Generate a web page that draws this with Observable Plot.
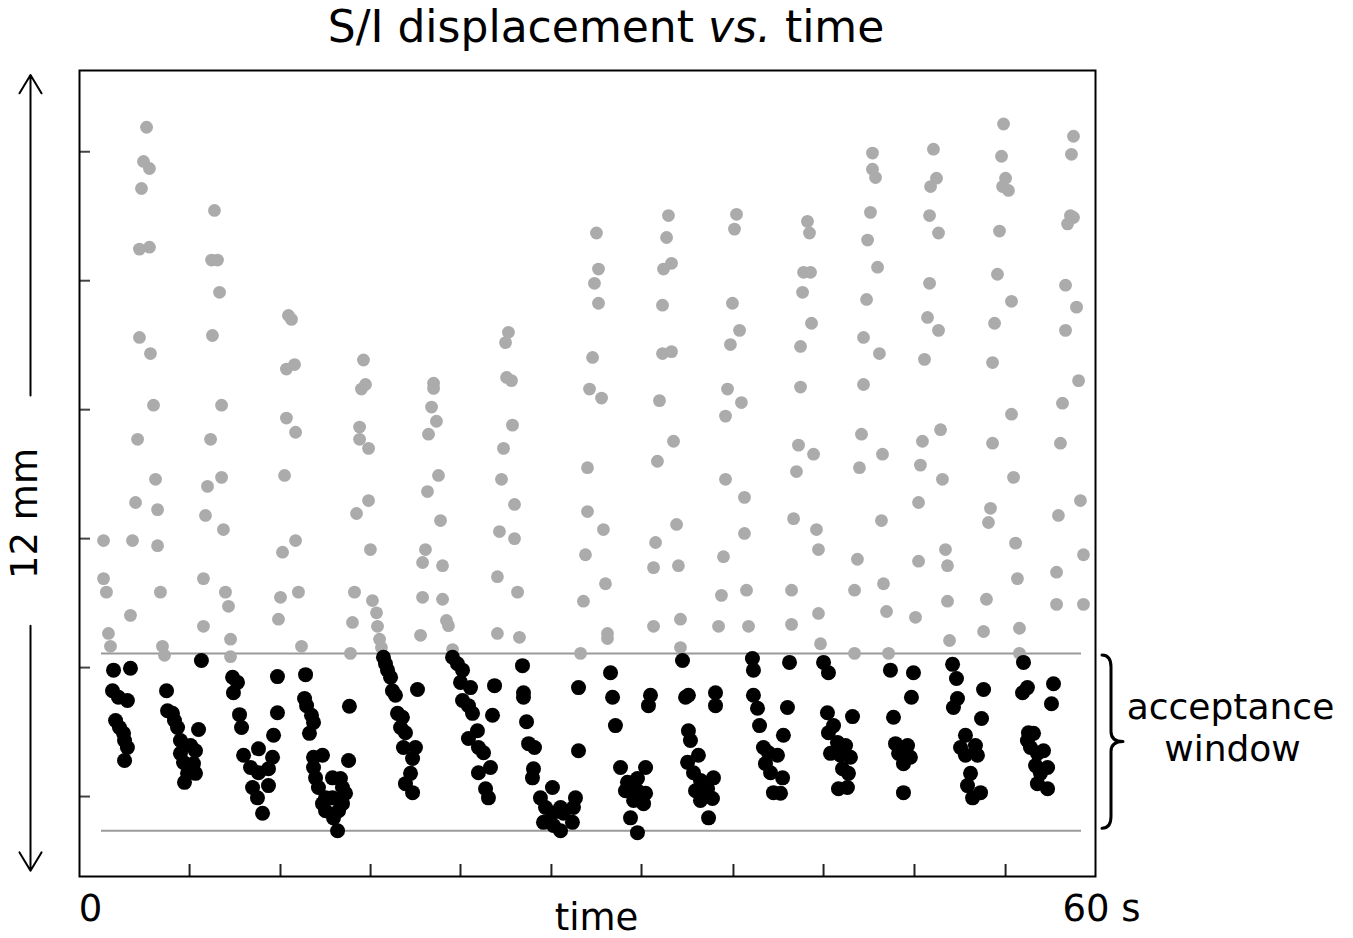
<!DOCTYPE html>
<html>
<head>
<meta charset="utf-8">
<script src="https://cdn.jsdelivr.net/npm/d3@7"></script>
<script src="https://cdn.jsdelivr.net/npm/@observablehq/plot@0.6"></script>
<style>
  body { margin: 0; background: #fff; }
  #wrap { position: relative; width: 1353px; height: 938px; font-family: "DejaVu Sans", sans-serif; }
  #wrap svg { position: absolute; left: 0; top: 0; }
  #title { position: absolute; left: 0; top: 5px; width: 1212px; text-align: center; font-size: 44px; line-height: 44px; color: #000; }
</style>
</head>
<body>
<div id="wrap"></div>
<script>
// ---- data (time in s, S/I displacement in mm) ----
const timeDomain = [0, 60];
const dispDomain = [-1.24, 11.26];
const xTicks = [6.50, 11.87, 17.19, 22.50, 27.87, 33.19, 38.62, 43.94, 49.31, 54.69];
const yTicks = [0, 2, 4, 6, 8, 10];
const windowBounds = [-0.53, 2.22];
const spanArrows = [[6.22, 11.19], [2.65, -1.15]];
const titleText = ["S/I displacement ", "vs.", " time"];
const spanLabel = "12 mm";
const windowLabel = ["acceptance", "window"];
const xStartLabel = "0";
const xEndLabel = "60 s";
const xAxisLabel = "time";

// points outside the acceptance window (gray)
const outsidePoints = [
  [1.42,3.97],[1.42,3.38],[1.59,3.17],[1.71,2.53],[1.83,2.33],[3.01,2.81],[3.13,3.97],[3.31,4.56],
  [3.43,5.54],[3.54,7.12],[3.54,8.49],[4.13,8.52],[3.66,9.43],[3.78,9.85],[4.13,9.74],[3.96,10.38],
  [4.19,6.87],[4.37,6.07],[4.49,4.92],[4.61,4.45],[4.61,3.89],[4.78,3.17],[4.90,2.33],[5.02,2.19],
  [7.97,9.09],[7.80,8.32],[8.15,8.32],[8.27,7.82],[7.85,7.15],[8.39,6.07],[7.74,5.54],[8.39,4.95],
  [7.56,4.81],[7.44,4.36],[8.50,4.14],[7.32,3.38],[8.62,3.17],[8.80,2.95],[7.32,2.64],[8.92,2.44],[8.92,2.17],
  [12.34,7.46],[12.52,7.40],[12.22,6.63],[12.70,6.70],[12.22,5.87],[12.76,5.65],[12.11,4.98],[12.76,3.97],
  [11.99,3.79],[12.93,3.17],[11.87,3.09],[11.75,2.75],[13.11,2.33],
  [16.77,6.77],[16.65,6.32],[16.89,6.39],[16.54,5.73],[16.54,5.54],[17.07,5.40],[17.07,4.59],[16.36,4.39],
  [17.18,3.83],[16.24,3.17],[17.30,3.04],[17.54,2.85],[16.12,2.70],[17.60,2.64],[17.72,2.44],[17.83,2.31],[16.00,2.22],
  [20.91,6.41],[20.91,6.33],[20.79,6.04],[21.08,5.82],[20.61,5.62],[21.20,4.98],[20.55,4.73],[21.32,4.28],
  [20.43,3.83],[20.26,3.63],[21.44,3.58],[20.26,3.09],[21.44,3.06],[21.67,2.73],[21.79,2.65],[20.14,2.50],[22.03,2.28],
  [25.33,7.20],[25.16,7.04],[25.22,6.50],[25.51,6.45],[25.57,5.76],[25.04,5.40],[24.92,4.92],[25.69,4.53],
  [24.80,4.11],[25.69,4.00],[24.68,3.41],[25.87,3.17],[24.68,2.53],[25.98,2.47],
  [30.53,8.74],[30.65,8.18],[30.41,7.96],[30.65,7.65],[30.30,6.81],[30.12,6.32],[30.83,6.18],[30.00,5.10],
  [30.00,4.42],[30.94,4.14],[29.88,3.75],[31.06,3.30],[29.76,3.03],[31.18,2.53],[31.18,2.45],[29.59,2.22],
  [34.78,9.01],[34.67,8.67],[34.96,8.27],[34.49,8.18],[34.43,7.62],[34.43,6.87],[34.96,6.90],[34.25,6.14],
  [35.08,5.51],[34.13,5.20],[35.26,4.22],[34.02,3.94],[33.90,3.55],[35.37,3.58],[35.49,2.75],[33.90,2.64],[35.49,2.31],
  [38.80,9.03],[38.68,8.80],[38.56,7.65],[38.98,7.23],[38.44,7.01],[38.27,6.32],[39.09,6.11],[38.15,5.90],
  [38.15,4.92],[39.27,4.64],[39.27,4.08],[38.03,3.72],[39.39,3.20],[37.91,3.12],[37.74,2.64],[39.51,2.64],
  [42.99,8.92],[43.11,8.74],[42.76,8.13],[43.17,8.13],[42.70,7.82],[43.23,7.34],[42.58,6.98],[42.58,6.35],
  [42.46,5.45],[43.35,5.31],[42.34,5.04],[42.17,4.31],[43.52,4.14],[43.64,3.83],[42.05,3.20],[43.64,2.84],
  [42.05,2.67],[43.76,2.37],
  [46.83,9.98],[46.83,9.73],[47.01,9.60],[46.71,9.06],[46.54,8.63],[47.13,8.21],[46.48,7.71],[46.30,7.12],
  [47.24,6.87],[46.30,6.39],[46.18,5.62],[47.42,5.31],[46.06,5.10],[47.36,4.28],[45.94,3.68],[45.77,3.20],
  [47.48,3.30],[47.66,2.87],[45.77,2.22],[47.78,2.22],
  [50.43,10.04],[50.61,9.59],[50.26,9.46],[50.20,9.01],[50.73,8.74],[50.20,7.96],[50.08,7.43],[50.73,7.23],
  [49.90,6.78],[50.85,5.69],[49.78,5.51],[49.66,5.14],[50.96,4.92],[49.55,4.56],[49.55,3.65],[51.14,3.83],
  [51.26,3.58],[49.37,2.78],[51.26,3.03],[51.38,2.42],
  [54.57,10.43],[54.45,9.93],[54.69,9.59],[54.51,9.46],[54.86,9.40],[54.33,8.77],[54.21,8.10],[55.04,7.68],
  [54.04,7.34],[53.92,6.73],[55.04,5.93],[53.92,5.48],[55.16,4.95],[53.80,4.47],[53.68,4.25],[55.28,3.93],
  [55.39,3.38],[53.56,3.06],[53.39,2.56],[55.51,2.61],[55.51,2.22],
  [58.70,10.24],[58.58,9.96],[58.52,9.01],[58.70,8.98],[58.35,8.88],[58.23,7.93],[58.88,7.59],[58.23,7.23],
  [59.00,6.45],[58.05,6.10],[57.93,5.48],[59.11,4.59],[57.81,4.36],[59.29,3.75],[57.70,3.48],[57.70,2.98],[59.29,2.98]
];

// points inside the acceptance window (black)
const insidePoints = [
  [2.01,1.96],[3.01,1.99],[1.95,1.64],[2.30,1.54],[2.83,1.49],[2.13,1.18],[2.36,1.07],[2.60,0.98],[2.66,0.87],[2.83,0.76],[2.66,0.56],
  [7.20,2.11],[5.14,1.64],[5.20,1.33],[5.49,1.29],[5.61,1.18],[5.79,1.07],[7.03,1.04],[5.96,0.87],[6.56,0.79],[5.96,0.67],
  [6.85,0.71],[6.14,0.53],[6.73,0.51],[6.38,0.36],[6.85,0.36],[6.20,0.22],
  [9.04,1.85],[9.33,1.77],[9.09,1.61],[9.45,1.27],[9.57,1.07],[11.69,1.86],[11.69,1.30],[11.46,0.95],[9.69,0.64],
  [10.57,0.74],[11.40,0.61],[10.10,0.45],[11.16,0.43],[10.57,0.37],[10.22,0.14],[10.51,-0.02],[11.16,0.17],[10.81,-0.26],
  [13.35,1.89],[13.29,1.52],[13.41,1.41],[13.70,1.26],[13.82,1.15],[13.58,0.98],[15.94,1.40],[13.82,0.61],[14.35,0.64],
  [13.82,0.45],[13.94,0.29],[14.11,0.14],[14.94,0.29],[15.41,0.28],[15.53,0.14],[15.71,0.05],[14.53,-0.02],[14.35,-0.11],
  [14.94,-0.02],[15.53,-0.11],[14.53,-0.22],[15.30,-0.22],[15.00,-0.33],[15.24,-0.53],[15.89,0.56],
  [17.95,2.16],[18.07,2.06],[18.19,1.96],[18.37,1.85],[18.48,1.64],[18.66,1.57],[19.96,1.66],[18.78,1.29],[19.07,1.23],
  [18.96,1.07],[19.25,0.99],[19.13,0.76],[19.84,0.76],[19.67,0.59],[19.55,0.36],[19.25,0.20],[19.67,0.06],
  [22.03,2.16],[22.32,2.06],[22.62,1.96],[22.50,1.77],[23.09,1.69],[22.62,1.49],[22.97,1.41],[23.21,1.29],[24.51,1.72],
  [24.39,1.26],[23.50,1.02],[22.97,0.90],[23.56,0.76],[23.86,0.68],[24.27,0.45],[23.56,0.37],[23.98,0.12],[24.15,-0.02],
  [26.16,2.03],[26.22,1.61],[26.22,1.54],[26.40,1.16],[26.52,0.82],[26.87,0.76],[26.81,0.43],[26.75,0.29],[27.93,0.14],
  [27.22,-0.02],[27.52,-0.17],[28.41,-0.17],[29.29,-0.02],[29.17,-0.17],[27.40,-0.40],[27.99,-0.45],[28.41,-0.53],
  [29.11,-0.40],[28.58,-0.26],[27.93,-0.26],[29.47,1.69],[29.47,0.71],
  [31.36,1.92],[31.48,1.54],[31.65,1.10],[31.95,0.45],[33.43,0.45],[32.36,0.22],[32.95,0.28],[32.24,0.09],[32.95,0.09],
  [33.43,0.05],[32.72,-0.06],[33.31,-0.11],[32.54,-0.33],[32.95,-0.56],[33.72,1.57],[33.60,1.41],
  [35.61,2.11],[35.79,1.54],[35.96,1.57],[35.96,1.02],[36.08,0.87],[37.56,1.61],[37.56,1.41],[35.91,0.53],[36.55,0.64],
  [36.26,0.37],[36.67,0.25],[37.44,0.29],[36.38,0.09],[37.09,0.12],[37.38,-0.03],[36.67,-0.06],[37.15,-0.33],
  [39.74,2.14],[39.80,1.96],[39.80,1.57],[40.04,1.37],[40.16,1.10],[40.39,0.76],[40.69,0.68],[41.22,0.64],[40.51,0.51],
  [40.81,0.37],[41.52,0.29],[40.98,0.06],[41.40,0.05],[41.93,2.08],[41.81,1.38],[41.57,0.95],
  [43.94,2.08],[44.23,1.92],[44.17,1.30],[45.65,1.24],[44.53,1.10],[44.23,0.99],[44.76,0.84],[45.24,0.79],[44.35,0.67],
  [44.94,0.64],[45.53,0.61],[45.06,0.43],[45.41,0.36],[44.82,0.12],[45.35,0.14],
  [47.89,1.96],[49.25,1.92],[49.13,1.54],[48.07,1.23],[48.19,0.82],[48.90,0.79],[48.37,0.67],[49.07,0.61],[48.66,0.51],[48.66,0.06],
  [51.56,2.05],[51.79,1.83],[51.85,1.52],[51.61,1.38],[53.39,1.66],[53.27,1.21],[52.32,0.95],[52.03,0.76],[52.91,0.79],
  [52.32,0.64],[53.03,0.64],[52.62,0.36],[52.44,0.17],[53.21,0.06],[52.74,-0.02],
  [55.75,2.08],[55.98,1.69],[55.69,1.61],[57.52,1.75],[57.40,1.44],[56.04,0.99],[56.34,0.98],[55.98,0.87],[56.16,0.76],
  [56.93,0.71],[56.57,0.67],[56.46,0.48],[57.17,0.45],[56.75,0.36],[56.57,0.20],[57.17,0.12]
];

// ---- chart ----
const W = 1353, H = 938;
const mL = 79, mR = 258, mT = 70, mB = 62;
const innerW = W - mL - mR, innerH = H - mT - mB;
const font = "DejaVu Sans";
const label = {fill: "#000", textAnchor: "middle", lineAnchor: "middle"};

const chart = Plot.plot({
  width: W, height: H,
  marginLeft: mL, marginRight: mR, marginTop: mT, marginBottom: mB,
  x: {domain: timeDomain, axis: null},
  y: {domain: dispDomain, axis: null},
  style: {fontFamily: font, background: "#fff", color: "#000", overflow: "visible"},
  marks: [
    Plot.ruleY(windowBounds, {stroke: "#9a9a9a", strokeWidth: 2, insetLeft: 22, insetRight: 14}),
    Plot.tickY(yTicks, {y: d => d, stroke: "#444", strokeWidth: 2, insetRight: innerW - 11}),
    Plot.tickX(xTicks, {x: d => d, stroke: "#222", strokeWidth: 2, insetTop: innerH - 12}),
    Plot.dot(outsidePoints, {x: d => d[0], y: d => d[1], r: 6.4, fill: "#ababab", stroke: "none"}),
    Plot.dot(insidePoints, {x: d => d[0], y: d => d[1], r: 7.5, fill: "#000", stroke: "none"}),
    Plot.frame({stroke: "#000", strokeWidth: 2}),
    Plot.arrow(spanArrows, {x1: timeDomain[0], x2: timeDomain[0], y1: d => d[0], y2: d => d[1], dx: -49,
      stroke: "#000", strokeWidth: 2, headAngle: 62, headLength: 16}),
    Plot.text([spanLabel], {...label, frameAnchor: "left", rotate: -90, dx: -54, dy: 40, fontSize: 37}),
    Plot.text([xStartLabel], {...label, frameAnchor: "bottom-left", dx: 11, dy: 33, fontSize: 37}),
    Plot.text([xEndLabel], {...label, frameAnchor: "bottom-right", dx: 6, dy: 33, fontSize: 37}),
    Plot.text([xAxisLabel], {...label, frameAnchor: "bottom", dx: 9, dy: 42, fontSize: 37}),
    Plot.text([windowLabel[0]], {...label, frameAnchor: "right", dx: 135, dy: 234, fontSize: 36}),
    Plot.text([windowLabel[1]], {...label, frameAnchor: "right", dx: 137, dy: 276, fontSize: 36})
  ]
});

const wrap = document.getElementById("wrap");
wrap.appendChild(chart);

// curly brace marking the acceptance window, placed with the chart's own scales
const ys = chart.scale("y");
const yTop = ys.apply(windowBounds[1]), yBot = ys.apply(windowBounds[0]);
const xr = W - mR;
const x0 = xr + 7, x1 = xr + 16, x2 = xr + 28;
const ym = (yTop + yBot) / 2;
const bracePath = `M${x0},${yTop + 2} Q${x1},${yTop + 2} ${x1},${yTop + 14} L${x1},${ym - 10} Q${x1},${ym} ${x2},${ym} Q${x1},${ym} ${x1},${ym + 10} L${x1},${yBot - 14} Q${x1},${yBot - 2} ${x0},${yBot - 2}`;
d3.select(chart).append("path")
  .attr("d", bracePath)
  .attr("fill", "none")
  .attr("stroke", "#000")
  .attr("stroke-width", 3)
  .attr("stroke-linecap", "round")
  .attr("stroke-linejoin", "round");

// title (HTML, above the plot area)
const title = document.createElement("div");
title.id = "title";
title.append(titleText[0]);
const it = document.createElement("i");
it.textContent = titleText[1];
title.append(it, titleText[2]);
wrap.appendChild(title);
</script>
</body>
</html>
